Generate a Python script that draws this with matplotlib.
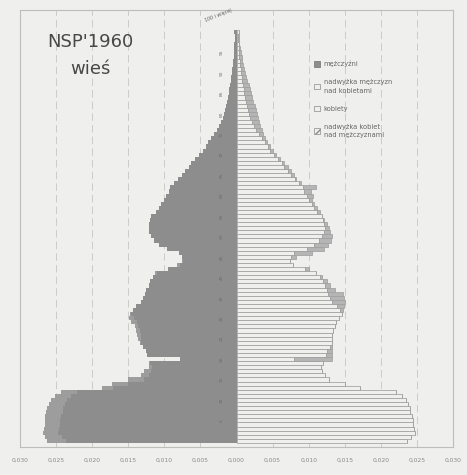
#!/usr/bin/env python3
"""Population pyramid NSP'1960, rural population (wieś)."""

import matplotlib

matplotlib.use("Agg")
import matplotlib.pyplot as plt
import numpy as np
from matplotlib.patches import Patch

# ages 0..100 (100 = "100 i więcej")
AGES = list(range(0, 101))

MALE = [
    0.0262, 0.0265, 0.0268, 0.0267, 0.0266, 0.0265, 0.0266, 0.0264, 0.0263, 0.0260,
    0.0257, 0.0252, 0.0243, 0.0186, 0.0172, 0.0150, 0.0133, 0.0128, 0.0122, 0.0121,
    0.0079, 0.0124, 0.0126, 0.0130, 0.0134, 0.0136, 0.0138, 0.0139, 0.0141, 0.0146,
    0.0149, 0.0147, 0.0144, 0.0139, 0.0132, 0.0130, 0.0127, 0.0126, 0.0122, 0.0120,
    0.0116, 0.0113, 0.0095, 0.0082, 0.0075, 0.0076, 0.0080, 0.0097, 0.0108, 0.0114,
    0.0118, 0.0121, 0.0122, 0.0121, 0.0120, 0.0118, 0.0112, 0.0107, 0.0104, 0.0100,
    0.0098, 0.0094, 0.0092, 0.0086, 0.0081, 0.0076, 0.0072, 0.0066, 0.0063, 0.0058,
    0.0052, 0.0047, 0.0043, 0.0039, 0.0035, 0.0031, 0.0027, 0.0024, 0.0021, 0.0019,
    0.0017, 0.0016, 0.0014, 0.0013, 0.0012, 0.0011, 0.0010, 0.0009, 0.0008, 0.0007,
    0.0006, 0.0006, 0.0005, 0.0005, 0.0004, 0.0004, 0.0003, 0.0003, 0.0002, 0.0002,
    0.0003,
]

FEMALE = [
    0.0236, 0.0242, 0.0247, 0.0246, 0.0245, 0.0244, 0.0243, 0.0241, 0.0240, 0.0238,
    0.0235, 0.0230, 0.0221, 0.0171, 0.0150, 0.0128, 0.0122, 0.0119, 0.0117, 0.0120,
    0.0133, 0.0132, 0.0133, 0.0133, 0.0133, 0.0132, 0.0133, 0.0134, 0.0136, 0.0138,
    0.0142, 0.0146, 0.0147, 0.0149, 0.0150, 0.0149, 0.0147, 0.0136, 0.0130, 0.0125,
    0.0118, 0.0110, 0.0100, 0.0078, 0.0074, 0.0082, 0.0105, 0.0121, 0.0127, 0.0131,
    0.0132, 0.0130, 0.0128, 0.0125, 0.0121, 0.0118, 0.0115, 0.0111, 0.0108, 0.0104,
    0.0106, 0.0103, 0.0110, 0.0090, 0.0083, 0.0079, 0.0076, 0.0071, 0.0066, 0.0060,
    0.0055, 0.0050, 0.0046, 0.0042, 0.0039, 0.0037, 0.0035, 0.0033, 0.0031, 0.0030,
    0.0029, 0.0027, 0.0025, 0.0023, 0.0021, 0.0020, 0.0019, 0.0017, 0.0015, 0.0013,
    0.0012, 0.0010, 0.0009, 0.0008, 0.0007, 0.0006, 0.0005, 0.0004, 0.0003, 0.0003,
    0.0004,
]

X_TICKS = [-0.030, -0.025, -0.020, -0.015, -0.010, -0.005, 0.0,
           0.005, 0.010, 0.015, 0.020, 0.025, 0.030]
AGE_LABELS = list(range(5, 100, 5))
LEGEND_LABELS = [
    "mężczyźni",
    "nadwyżka mężczyzn\nnad kobietami",
    "kobiety",
    "nadwyżka kobiet\nnad mężczyznami",
]

BG = "#efefed"
MALE_C = "#8d8d8d"
MALE_EX_C = "#9d9d9d"
FEM_C = "#efefed"
FEM_EDGE = "#a0a0a0"
FEM_EX_C = "#b5b5b5"


def main() -> None:
    ages = np.array(AGES)
    male = np.array(MALE)
    female = np.array(FEMALE)
    common = np.minimum(male, female)

    fig = plt.figure(figsize=(4.67, 4.75), dpi=100, facecolor=BG)
    ax = fig.add_axes([0.043, 0.059, 0.927, 0.920], facecolor=BG)

    for x in X_TICKS:
        if x != 0:
            ax.axvline(x, color="#c6c6c4", lw=0.6, ls=(0, (9, 5)), zorder=0)

    # men (left)
    ax.barh(ages, -common, height=1.0, color=MALE_C, lw=0, zorder=2)
    ax.barh(ages, -(male - common), left=-common, height=1.0,
            color=MALE_EX_C, lw=0, zorder=2)
    # women (right)
    ax.barh(ages, common, height=1.0, color=FEM_C, edgecolor=FEM_EDGE,
            lw=0.55, zorder=2)
    ax.barh(ages, female - common, left=common, height=1.0, color=FEM_EX_C,
            edgecolor=FEM_EDGE, lw=0.55, zorder=2)

    for a in AGE_LABELS:
        ax.text(-0.0021, a, str(a), rotation=90, fontsize=3.2, color="#6a6a6a",
                ha="center", va="center", zorder=3)
    ax.text(-0.0006, 102.2, "100 i więcej", rotation=22, fontsize=3.4,
            color="#606060", ha="right", va="bottom", zorder=3)

    ax.set_xlim(-0.030, 0.030)
    ax.set_ylim(-1.5, 105.4)
    ax.set_xticks(X_TICKS)
    ax.set_xticklabels([f"{abs(x):.3f}".replace(".", ",") for x in X_TICKS],
                       fontsize=4.3, color="#8a8a8a")
    ax.tick_params(axis="x", length=0, pad=8)
    ax.set_yticks([])
    for spine in ax.spines.values():
        spine.set_color("#bdbdbb")
        spine.set_linewidth(0.8)

    ax.text(0.162, 0.927, "NSP'1960", transform=ax.transAxes, fontsize=13,
            color="#484848", ha="center", va="center")
    ax.text(0.162, 0.866, "wieś", transform=ax.transAxes, fontsize=13,
            color="#484848", ha="center", va="center")

    handles = [
        Patch(facecolor=MALE_C, edgecolor="#707070", lw=0.5),
        Patch(facecolor=FEM_C, edgecolor="#8a8a8a", lw=0.5),
        Patch(facecolor=FEM_C, edgecolor="#8a8a8a", lw=0.5),
        Patch(facecolor=FEM_C, edgecolor="#8a8a8a", lw=0.5, hatch="////"),
    ]
    leg = ax.legend(handles, LEGEND_LABELS, loc="upper left",
                    bbox_to_anchor=(0.672, 0.89), frameon=False, fontsize=4.8,
                    handlelength=0.9, handleheight=0.9, handletextpad=0.6,
                    labelspacing=1.8, borderaxespad=0)
    for t in leg.get_texts():
        t.set_color("#666666")
        t.set_linespacing(1.5)

    fig.savefig("out.png", dpi=100, facecolor=BG)
    plt.close(fig)


if __name__ == "__main__":
    main()
